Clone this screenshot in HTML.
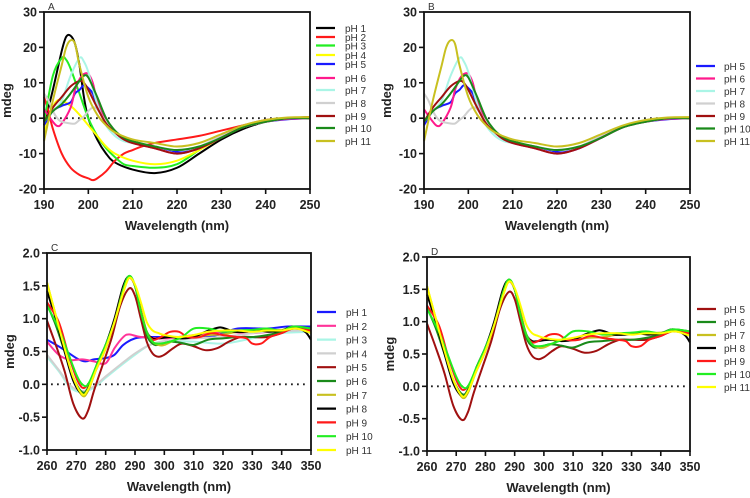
<!DOCTYPE html>
<html><head><meta charset="utf-8">
<style>
html,body{margin:0;padding:0;background:#fff;}
svg{display:block;font-family:"Liberation Sans",Arial,sans-serif;}
.tick{font-size:12.5px;font-weight:bold;fill:#222;}
.ax{font-size:13px;font-weight:bold;fill:#222;}
.leg{font-size:10px;fill:#333;}
</style></head>
<body>
<svg id="chart" width="750" height="498" viewBox="0 0 750 498"></svg>
<script>
// ---- data: far-UV (panels A,B) ----
const farLabels = ["pH 1","pH 2","pH 3","pH 4","pH 5","pH 6","pH 7","pH 8","pH 9","pH 10","pH 11"];
const farColors = ["#000000","#ff1a1a","#22ee22","#ffff00","#1a1aff","#ff1a8c","#aaf5e6","#d0d0d0","#a01010","#1a8a1a","#c8c020"];
const far1x=[190,192,194,195,196,197,198,199,200,202,204,206,210,215,220,225,230,235,240,245,250];
const far1y=[-2,8,19,23,23.3,21,15,6,0,-6,-10,-12.5,-14.5,-15.5,-14,-10,-6,-3,-1,0,0.3];
const far2x=[190,191,192,194,196,198,200,201,202,204,206,208,210,212,215,220,225,230,235,240,245,250];
const far2y=[6,2,-3,-10,-14,-16,-17,-17.5,-17,-15,-12,-10,-9,-8,-7,-6,-5,-3.5,-2,-0.5,0,0.3];
const far3x=[190,192,194,195,196,198,200,202,204,206,208,210,215,220,225,230,235,240,245,250];
const far3y=[-1,12,17,16.5,14,7,0,-5,-8.5,-11,-13,-13.5,-14,-13,-9,-5,-2.5,-0.8,0,0.2];
const far4x=[190,192,193,194,196,198,200,202,204,206,210,215,220,225,230,235,240,245,250];
const far4y=[-4,3,5,5,3.5,1,-2,-5,-8,-10,-12,-13,-12,-9,-5.5,-2.5,-0.8,0,0.2];
const far5x=[190,192,194,196,197,198,199,200,201,202,204,206,208,210,215,220,222,225,230,235,240,245,250];
const far5y=[-2,2,3.5,4.5,7,8,9.3,8.5,7,3.5,-1,-4,-6,-7,-8,-9.5,-9.5,-8.5,-5.5,-2.5,-1,-0.3,0];
const far6x=[190,192,193,194,196,197,198,199,200,201,202,204,206,208,210,215,220,225,230,235,240,245,250];
const far6y=[2.5,-1,-2.2,-1.5,3,8,11,12.5,12.5,10,5,-1,-4,-6,-7,-8.5,-10,-8.5,-5.5,-2.5,-1,-0.2,0];
const far7x=[190,192,194,196,198,199,200,202,204,206,208,210,215,220,225,230,235,240,245,250];
const far7y=[-1,2,5,12,17,16,13,4,-2,-5,-6.5,-7,-8,-9,-8,-5,-2.5,-1,0,0];
const far8x=[190,191,192,193,194,196,197,198,199,200,201,202,204,206,208,210,215,220,225,230,235,240,245,250];
const far8y=[7,5,2,0,-1,-1.5,-1.5,-0.5,0.5,2,3,2.5,-1,-4,-6,-7,-8,-9,-8,-5,-2.5,-1,0,0];
const far9x=[190,192,194,196,198,199,200,202,204,206,208,210,215,220,225,230,235,240,245,250];
const far9y=[-1,3,6,9,10.5,10,8,3,-1.5,-4,-6,-7,-8.5,-10,-8.5,-5.5,-2.5,-1,0,0];
const far10x=[190,192,194,196,198,199,200,202,204,206,208,210,215,220,225,230,235,240,245,250];
const far10y=[-1,2,4,7,10.5,12,11.5,6,0,-3.5,-5.5,-6.5,-8,-9,-8,-5.5,-2.5,-1,0,0];
const far11x=[190,192,194,195,196,197,198,200,202,204,206,210,215,220,225,230,235,240,245,250];
const far11y=[-6.5,5,15,20,22,21,15,6,1,-2,-4,-6,-7,-8,-7,-4.5,-2,-0.5,0.2,0.3];
const farX=[far1x,far2x,far3x,far4x,far5x,far6x,far7x,far8x,far9x,far10x,far11x];
const farY=[far1y,far2y,far3y,far4y,far5y,far6y,far7y,far8y,far9y,far10y,far11y];

// ---- data: near-UV (panels C,D) ----
const nearLabels = ["pH 1","pH 2","pH 3","pH 4","pH 5","pH 6","pH 7","pH 8","pH 9","pH 10","pH 11"];
const nearColors = ["#1a1aff","#ff3399","#aaf5e6","#d0d0d0","#a01010","#1a8a1a","#c8c020","#000000","#ff1a1a","#22ee22","#ffff00"];
const near1x=[260,265,270,273,276,280,283,286,290,295,300,310,318,325,335,342,350];
const near1y=[0.68,0.55,0.4,0.35,0.38,0.4,0.45,0.6,0.7,0.72,0.72,0.72,0.75,0.85,0.85,0.88,0.88];
const near2x=[260,264,268,272,276,280,283,286,288,292,300,310,320,330,340,350];
const near2y=[0.65,0.45,0.37,0.38,0.35,0.32,0.55,0.72,0.76,0.72,0.7,0.75,0.8,0.78,0.82,0.82];
const near3x=[260,264,268,272,276,280,285,290,295,300,310,320,330,340,350];
const near3y=[0.42,0.2,-0.05,-0.12,-0.05,0.1,0.28,0.45,0.6,0.65,0.65,0.62,0.7,0.78,0.8];
const near4x=[260,264,268,272,276,280,285,290,295,300,310,320,330,340,350];
const near4y=[0.45,0.22,-0.02,-0.1,-0.03,0.12,0.3,0.47,0.6,0.66,0.7,0.72,0.78,0.82,0.82];
const near5x=[260,263,266,269,272,274,276,279,282,285,288,290,292,294,296,298,300,303,306,310,314,318,322,326,330,335,340,344,350];
const near5y=[0.97,0.6,0.2,-0.3,-0.52,-0.4,-0.1,0.3,0.7,1.2,1.46,1.35,1.0,0.65,0.47,0.42,0.45,0.55,0.62,0.58,0.52,0.55,0.65,0.72,0.72,0.72,0.78,0.85,0.83];
const near6x=[260,263,266,269,272,274,277,280,283,286,288,290,292,294,296,298,302,306,310,315,320,325,330,335,340,344,350];
const near6y=[1.22,0.9,0.5,0.1,-0.12,-0.05,0.3,0.6,0.95,1.45,1.65,1.5,1.1,0.75,0.62,0.6,0.65,0.63,0.6,0.68,0.7,0.72,0.72,0.75,0.8,0.88,0.85];
const near7x=[260,263,266,269,272,274,277,280,283,286,288,290,292,294,296,298,300,305,310,315,320,325,330,335,340,345,350];
const near7y=[1.55,1.05,0.55,0.1,-0.17,-0.1,0.25,0.55,0.95,1.4,1.62,1.5,1.15,0.8,0.65,0.6,0.6,0.7,0.72,0.75,0.76,0.8,0.82,0.82,0.83,0.85,0.8];
const near8x=[260,263,266,269,272,274,277,280,283,286,288,290,292,294,296,298,302,306,310,314,318,320,324,328,332,336,340,344,348,350];
const near8y=[1.42,1.0,0.5,0.05,-0.15,-0.08,0.3,0.6,1.0,1.5,1.64,1.5,1.1,0.8,0.7,0.7,0.72,0.7,0.72,0.8,0.86,0.86,0.8,0.8,0.82,0.8,0.82,0.88,0.8,0.68];
const near9x=[260,264,267,270,272,274,277,280,283,286,288,290,292,294,296,298,300,302,305,308,312,316,320,325,328,330,333,336,340,344,350];
const near9y=[1.25,0.95,0.5,0.1,-0.05,0.0,0.25,0.55,0.95,1.45,1.62,1.5,1.1,0.8,0.68,0.7,0.75,0.8,0.8,0.72,0.72,0.78,0.75,0.72,0.7,0.62,0.62,0.72,0.78,0.85,0.82];
const near10x=[260,264,267,270,272,274,277,280,283,286,288,290,292,294,296,298,302,306,310,315,320,325,330,335,340,344,350];
const near10y=[1.2,0.85,0.5,0.15,0.0,0.0,0.3,0.6,0.95,1.45,1.65,1.5,1.1,0.8,0.65,0.62,0.65,0.72,0.85,0.85,0.8,0.82,0.83,0.85,0.82,0.88,0.85];
const near11x=[260,263,266,269,272,274,277,280,283,286,288,290,292,294,296,298,300,305,310,315,320,325,330,335,340,345,350];
const near11y=[1.55,1.05,0.55,0.1,-0.15,-0.08,0.25,0.55,0.95,1.4,1.62,1.52,1.25,0.95,0.82,0.78,0.75,0.72,0.75,0.8,0.82,0.82,0.8,0.82,0.82,0.85,0.78];
const nearX=[near1x,near2x,near3x,near4x,near5x,near6x,near7x,near8x,near9x,near10x,near11x];
const nearY=[near1y,near2y,near3y,near4y,near5y,near6y,near7y,near8y,near9y,near10y,near11y];

const farTicksX=[190,200,210,220,230,240,250];
const farTicksY=[30,20,10,0,-10,-20];
const nearTicksX=[260,270,280,290,300,310,320,330,340,350];
const nearTicksY=[2.0,1.5,1.0,0.5,0.0,-0.5,-1.0];

const NS="http://www.w3.org/2000/svg";
const svg=document.getElementById("chart");
function mk(tag,attrs,parent){const e=document.createElementNS(NS,tag);for(const k in attrs)e.setAttribute(k,attrs[k]);(parent||svg).appendChild(e);return e;}

function smoothPath(pts){
  let d="M"+pts[0][0].toFixed(2)+","+pts[0][1].toFixed(2);
  for(let i=0;i<pts.length-1;i++){
    const p0=pts[i-1]||pts[i],p1=pts[i],p2=pts[i+1],p3=pts[i+2]||p2;
    const c1=[p1[0]+(p2[0]-p0[0])/6,p1[1]+(p2[1]-p0[1])/6];
    const c2=[p2[0]-(p3[0]-p1[0])/6,p2[1]-(p3[1]-p1[1])/6];
    d+=" C"+c1[0].toFixed(2)+","+c1[1].toFixed(2)+" "+c2[0].toFixed(2)+","+c2[1].toFixed(2)+" "+p2[0].toFixed(2)+","+p2[1].toFixed(2);
  }
  return d;
}

function panel(o){
  const g=mk("g",{});
  
  
  const xs=v=>o.x0+(v-o.xmin)/(o.xmax-o.xmin)*(o.x1-o.x0);
  const ys=v=>o.y0+(o.ymax-v)/(o.ymax-o.ymin)*(o.y1-o.y0);
  const z=mk("line",{x1:o.x0+4,x2:o.x1-4,y1:ys(0),y2:ys(0),stroke:"#222","stroke-width":1.8,"stroke-dasharray":"1.8,4.2"},g);
  
  
  o.idx.forEach(i=>{
    const pts=o.X[i].map((xv,k)=>[xs(xv),ys(o.Y[i][k])]);
    const p=mk("path",{d:smoothPath(pts),fill:"none",stroke:o.colors[i],"stroke-width":2,"stroke-linejoin":"round"},g);
    
    
  });
  const f=mk("rect",{x:o.x0,y:o.y0,width:o.x1-o.x0,height:o.y1-o.y0,fill:"none",stroke:"#111","stroke-width":1.8},g);
  
  
  o.tx.forEach(t=>{
    mk("line",{x1:xs(t),x2:xs(t),y1:o.y1,y2:o.y1+5,stroke:"#111","stroke-width":1.6},g);
    const tl=mk("text",{x:xs(t),y:o.y1+20,"text-anchor":"middle",class:"tick"},g);
    tl.textContent=t;
    
    
  });
  o.ty.forEach(t=>{
    mk("line",{x1:o.x0-5,x2:o.x0,y1:ys(t),y2:ys(t),stroke:"#111","stroke-width":1.6},g);
    const tl=mk("text",{x:o.x0-7,y:ys(t)+4.5,"text-anchor":"end",class:"tick"},g);
    tl.textContent=o.fmt(t);
    
    
  });
  const xl=mk("text",{x:(o.x0+o.x1)/2,y:o.y1+41,"text-anchor":"middle",class:"ax"},g);
  xl.textContent="Wavelength (nm)";
  
  
  const yl=mk("text",{x:0,y:0,"text-anchor":"middle",class:"ax",transform:"translate("+(o.x0-33)+","+((o.y0+o.y1)/2)+") rotate(-90)"},g);
  yl.textContent="mdeg";
  
  
  const pl=mk("text",{x:o.x0+4,y:o.y0-2,class:"leg","font-size":"11"},g);
  pl.textContent=o.letter;
  
  
  o.idx.forEach((i,k)=>{
    const y=o.legY[k];
    const ln=mk("line",{x1:o.lx,x2:o.lx+19,y1:y,y2:y,stroke:o.colors[i],"stroke-width":2.2},g);
    
    
    const lt=mk("text",{x:o.lx+o.tOff,y:y+4,class:"leg"},g);
    lt.textContent=o.labels[i];
    
    
  });
}
const all=[0,1,2,3,4,5,6,7,8,9,10], sub=[4,5,6,7,8,9,10];
const fmtInt=t=>String(t), fmt1=t=>t.toFixed(1);
const stepY=(a,s,n)=>Array.from({length:n},(_,k)=>a+k*s);
panel({name:"panel-a",letter:"A",x0:44,x1:310,y0:12,y1:189,xmin:190,xmax:250,ymin:-20,ymax:30,X:farX,Y:farY,colors:farColors,labels:farLabels,idx:all,tx:farTicksX,ty:farTicksY,fmt:fmtInt,lx:316,tOff:29,legY:[28,37,45.5,55,64,78,90,103,116,128,141]});
panel({name:"panel-b",letter:"B",x0:424,x1:690,y0:12,y1:189,xmin:190,xmax:250,ymin:-20,ymax:30,X:farX,Y:farY,colors:farColors,labels:farLabels,idx:sub,tx:farTicksX,ty:farTicksY,fmt:fmtInt,lx:696,tOff:28,legY:stepY(66,12.5,7)});
panel({name:"panel-c",letter:"C",x0:47,x1:311,y0:253,y1:450,xmin:260,xmax:350,ymin:-1,ymax:2,X:nearX,Y:nearY,colors:nearColors,labels:nearLabels,idx:all,tx:nearTicksX,ty:nearTicksY,fmt:fmt1,lx:317,tOff:29,legY:stepY(312,13.8,11)});
panel({name:"panel-d",letter:"D",x0:427,x1:690,y0:257,y1:451,xmin:260,xmax:350,ymin:-1,ymax:2,X:nearX,Y:nearY,colors:nearColors,labels:nearLabels,idx:sub,tx:nearTicksX,ty:nearTicksY,fmt:fmt1,lx:697,tOff:27,legY:stepY(309,13,7)});
</script>
</body></html>
